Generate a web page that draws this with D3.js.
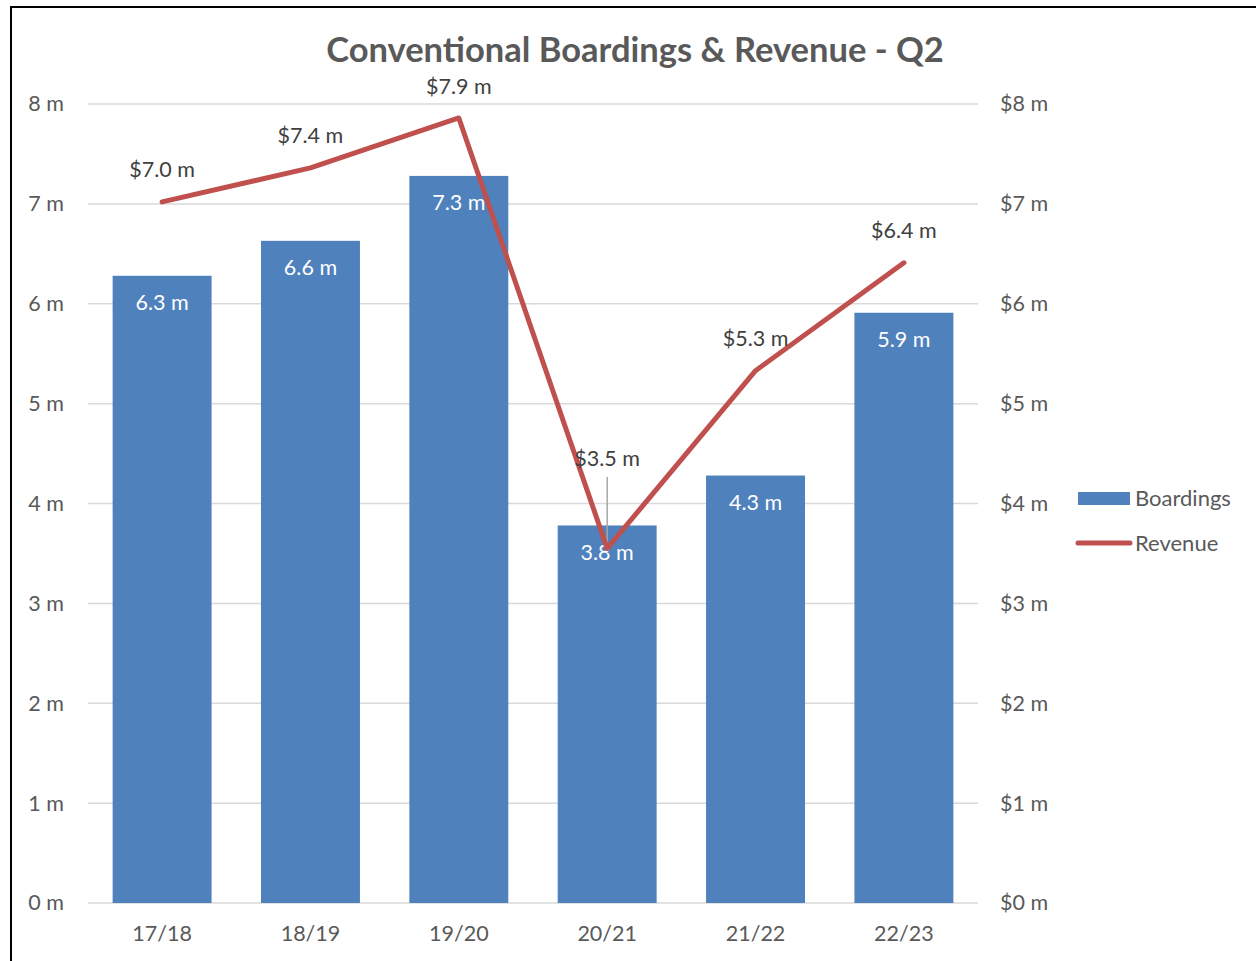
<!DOCTYPE html>
<html>
<head>
<meta charset="utf-8">
<script src="https://cdn.jsdelivr.net/npm/d3@7"></script>
<style>
  body { margin: 0; background: #fff; }
  text { font-family: Lato, "Open Sans", sans-serif; fill: #595959; }
</style>
</head>
<body>
<div id="chart"></div>
<script>
var seasons = ["17/18", "18/19", "19/20", "20/21", "21/22", "22/23"];
var boardings = [6.28, 6.63, 7.28, 3.78, 4.28, 5.91];
var revenue = [7.02, 7.36, 7.86, 3.55, 5.33, 6.41];
var leftTicks = [0, 1, 2, 3, 4, 5, 6, 7, 8];
var rightTicks = [0, 1, 2, 3, 4, 5, 6, 7, 8];

function chart() {
    var width = 1256;
    var height = 961;
    var left = 88, right = 978, top = 104, bottom = 903;
    var fs = "21.5px";

    var canvas = d3.select("#chart")
                    .append("svg")
                    .attr("width", width)
                    .attr("height", height);

    // frame
    canvas.append("rect")
        .attr("x", 11).attr("y", 7)
        .attr("width", 1260).attr("height", 970)
        .attr("fill", "none")
        .attr("stroke", "#000")
        .attr("stroke-width", 2);

    var xScale = d3.scaleBand()
                    .domain(seasons)
                    .range([left, right])
                    .paddingInner(0.333)
                    .paddingOuter(0.166);

    var yScale = d3.scaleLinear().domain([0, 8]).range([bottom, top]);
    var y2Scale = d3.scaleLinear().domain([0, 8]).range([bottom, top]);

    // gridlines
    canvas.append("g")
        .selectAll("line")
        .data(leftTicks)
        .enter()
        .append("line")
        .attr("x1", left).attr("x2", right)
        .attr("y1", function(d) { return yScale(d); })
        .attr("y2", function(d) { return yScale(d); })
        .attr("stroke", "#d9d9d9")
        .attr("stroke-width", 1.5);

    // left axis labels
    var yAxis = d3.axisLeft(yScale)
                .tickValues(leftTicks)
                .tickSize(0)
                .tickPadding(0)
                .tickFormat(function(d) { return d + " m"; });
    var gy = canvas.append("g")
        .attr("transform", "translate(64, 0)")
        .call(yAxis);
    gy.select(".domain").remove();
    gy.selectAll("text").style("font-size", fs).attr("fill", "#595959");

    // right axis labels
    var y2Axis = d3.axisRight(y2Scale)
                .tickValues(rightTicks)
                .tickSize(0)
                .tickPadding(0)
                .tickFormat(function(d) { return "$" + d + " m"; });
    var gy2 = canvas.append("g")
        .attr("transform", "translate(1000, 0)")
        .call(y2Axis);
    gy2.select(".domain").remove();
    gy2.selectAll("text").style("font-size", fs).attr("fill", "#595959");

    // x axis labels
    var xAxis = d3.axisBottom(xScale).tickSize(0).tickPadding(0);
    var gx = canvas.append("g")
        .attr("transform", "translate(0, 926)")
        .call(xAxis);
    gx.select(".domain").remove();
    gx.selectAll("text").style("font-size", fs).attr("fill", "#595959");

    // bars
    canvas.append("g")
        .selectAll("rect")
        .data(boardings)
        .enter()
        .append("rect")
        .attr("x", function(d, i) { return xScale(seasons[i]); })
        .attr("y", function(d) { return yScale(d); })
        .attr("width", xScale.bandwidth())
        .attr("height", function(d) { return bottom - yScale(d); })
        .attr("fill", "#4f81bd");

    // bar labels
    canvas.append("g")
        .selectAll("text")
        .data(boardings)
        .enter()
        .append("text")
        .attr("x", function(d, i) { return xScale(seasons[i]) + xScale.bandwidth() / 2; })
        .attr("y", function(d) { return yScale(d) + 27; })
        .attr("dy", "0.35em")
        .attr("text-anchor", "middle")
        .style("font-size", fs)
        .style("fill", "#fff")
        .text(function(d) { return d.toFixed(1) + " m"; });

    // revenue line
    var line = d3.line()
        .x(function(d, i) { return xScale(seasons[i]) + xScale.bandwidth() / 2; })
        .y(function(d) { return y2Scale(d); });

    // leader line for the moved label
    canvas.append("line")
        .attr("x1", xScale(seasons[3]) + xScale.bandwidth() / 2)
        .attr("x2", xScale(seasons[3]) + xScale.bandwidth() / 2)
        .attr("y1", 477)
        .attr("y2", y2Scale(revenue[3]) - 4)
        .attr("stroke", "#a6a6a6")
        .attr("stroke-width", 1.5);

    canvas.append("path")
        .datum(revenue)
        .attr("d", line)
        .attr("fill", "none")
        .attr("stroke", "#c0504d")
        .attr("stroke-width", 5)
        .attr("stroke-linecap", "round")
        .attr("stroke-linejoin", "round");

    // revenue labels
    canvas.append("g")
        .selectAll("text")
        .data(revenue)
        .enter()
        .append("text")
        .attr("x", function(d, i) { return xScale(seasons[i]) + xScale.bandwidth() / 2; })
        .attr("y", function(d, i) { return i === 3 ? 458 : y2Scale(d) - 32; })
        .attr("dy", "0.35em")
        .attr("text-anchor", "middle")
        .style("font-size", fs)
        .style("fill", "#404040")
        .text(function(d) { return "$" + d.toFixed(1) + " m"; });

    // title
    canvas.append("text")
        .attr("x", 635)
        .attr("y", 50)
        .attr("dy", "0.35em")
        .attr("text-anchor", "middle")
        .style("font-size", "34.5px")
        .style("font-weight", "bold")
        .style("fill", "#595959")
        .text("Conventional Boardings & Revenue - Q2");

    // legend
    var legend = canvas.append("g");
    legend.append("rect")
        .attr("x", 1078).attr("y", 492)
        .attr("width", 52).attr("height", 13)
        .attr("fill", "#4f81bd");
    legend.append("text")
        .attr("x", 1135).attr("y", 498)
        .attr("dy", "0.35em")
        .style("font-size", "22px")
        .text("Boardings");
    legend.append("line")
        .attr("x1", 1078).attr("x2", 1130)
        .attr("y1", 543).attr("y2", 543)
        .attr("stroke", "#c0504d")
        .attr("stroke-width", 5)
        .attr("stroke-linecap", "round");
    legend.append("text")
        .attr("x", 1135).attr("y", 543)
        .attr("dy", "0.35em")
        .style("font-size", "22px")
        .text("Revenue");
}

window.onload = chart;
</script>
</body>
</html>
